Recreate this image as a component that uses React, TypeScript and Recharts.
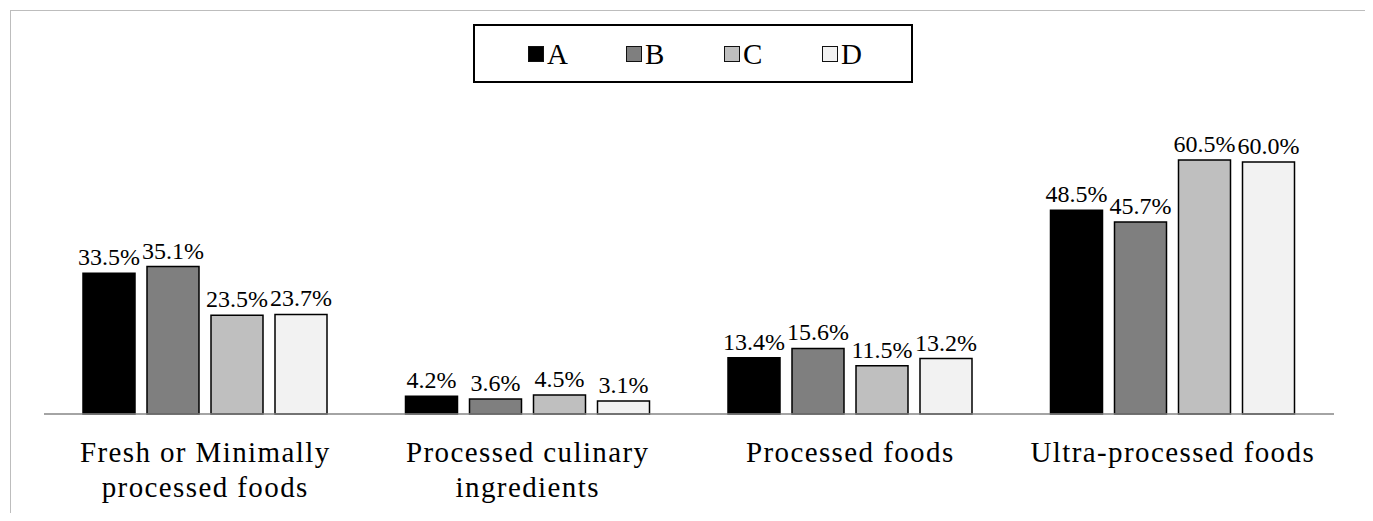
import React from "react";
import { BarChart, Bar, XAxis, YAxis, LabelList } from "recharts";

const categories = [
  "Fresh or Minimally\nprocessed foods",
  "Processed culinary\ningredients",
  "Processed foods",
  "Ultra-processed foods",
];

const seriesA = [33.5, 4.2, 13.4, 48.5];
const seriesB = [35.1, 3.6, 15.6, 45.7];
const seriesC = [23.5, 4.5, 11.5, 60.5];
const seriesD = [23.7, 3.1, 13.2, 60.0];

const series = [
  { key: "A", values: seriesA, fill: "#000000" },
  { key: "B", values: seriesB, fill: "#7f7f7f" },
  { key: "C", values: seriesC, fill: "#bfbfbf" },
  { key: "D", values: seriesD, fill: "#f2f2f2" },
];

const data = categories.map((name, i) => {
  const row: Record<string, string | number> = { name };
  series.forEach((s) => (row[s.key] = s.values[i]));
  return row;
});

const FONT = "Liberation Serif, Times New Roman, serif";

function CategoryTick(props: any) {
  const { x, y, payload } = props;
  const lines = String(payload.value).split("\n");
  return (
    <text
      x={x}
      y={y + 40}
      textAnchor="middle"
      style={{ fontFamily: FONT, fontSize: 29, letterSpacing: 1.4 }}
      fill="#000"
    >
      {lines.map((line, i) => (
        <tspan key={i} x={x} dy={i === 0 ? 0 : 35}>
          {line}
        </tspan>
      ))}
    </text>
  );
}

// legend box drawn above the plot, same swatches as the bars
function LegendBox() {
  return (
    <div
      style={{
        position: "absolute",
        left: 473,
        top: 24,
        boxSizing: "border-box",
        width: 440,
        height: 59,
        border: "2px solid #000",
        display: "flex",
        alignItems: "center",
        paddingLeft: 53,
        fontFamily: FONT,
        fontSize: 29,
        color: "#000",
        background: "#fff",
      }}
    >
      {series.map((s) => (
        <div
          key={s.key}
          style={{ width: 98, flexShrink: 0, display: "flex", alignItems: "center" }}
        >
          <span
            style={{
              display: "inline-block",
              boxSizing: "border-box",
              width: 16,
              height: 16,
              background: s.fill,
              border: "1.5px solid #111",
              marginRight: 3,
            }}
          />
          <span style={{ lineHeight: "30px" }}>{s.key}</span>
        </div>
      ))}
    </div>
  );
}

export default function App() {
  return (
    <div style={{ position: "relative", margin: -8, width: 1373, height: 521, background: "#fff" }}>
      <div
        style={{
          position: "absolute",
          left: 10,
          top: 10,
          width: 1359,
          height: 520,
          borderTop: "1px solid #bdbdbd",
          borderLeft: "1px solid #bdbdbd",
          borderRight: "1px solid #bdbdbd",
          boxSizing: "border-box",
        }}
      />
      <div style={{ position: "absolute", left: 0, top: 0 }}>
        <BarChart
          width={1373}
          height={521}
          data={data}
          margin={{ top: 120, right: 39, bottom: 0, left: 44 }}
          barSize={52}
          barGap={12}
        >
          <XAxis
            dataKey="name"
            height={107}
            interval={0}
            tickLine={false}
            axisLine={{ stroke: "#868686", strokeWidth: 1.5 }}
            tick={<CategoryTick />}
          />
          <YAxis hide domain={[0, 70]} />
          {series.map((s) => (
            <Bar
              key={s.key}
              dataKey={s.key}
              fill={s.fill}
              stroke="#000"
              strokeWidth={1.5}
              isAnimationActive={false}
            >
              <LabelList
                dataKey={s.key}
                position="top"
                offset={8}
                formatter={(v: any) => `${Number(v).toFixed(1)}%`}
                style={{ fontFamily: FONT, fontSize: 24, fill: "#000" }}
              />
            </Bar>
          ))}
        </BarChart>
      </div>
      <LegendBox />
    </div>
  );
}
